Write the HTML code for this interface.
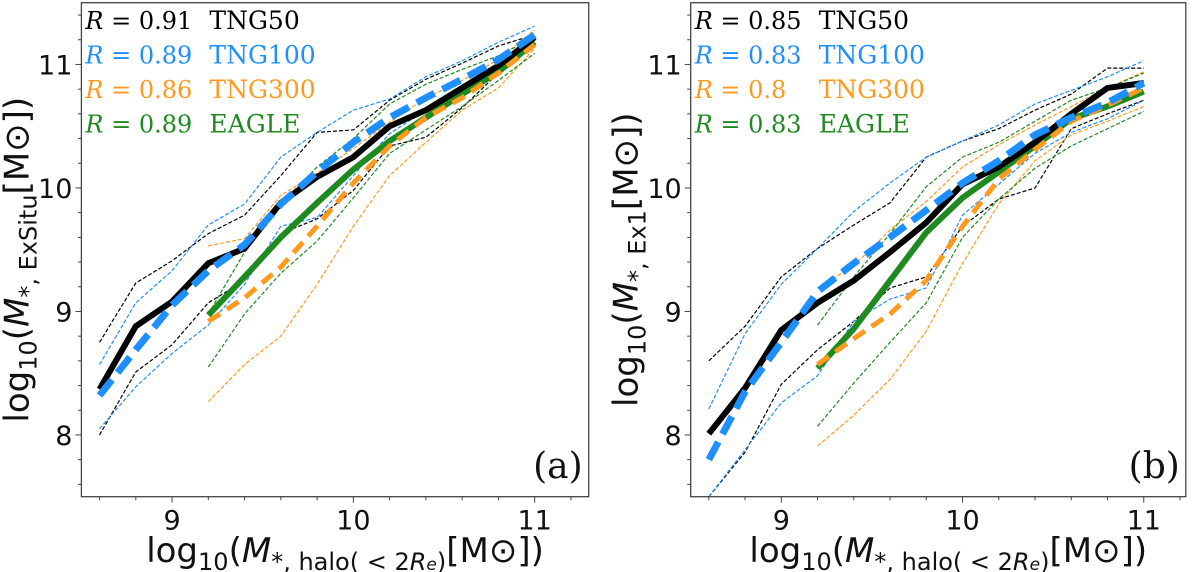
<!DOCTYPE html>
<html><head><meta charset="utf-8">
<style>
html,body{margin:0;padding:0;background:#fff;}
svg{display:block;}
text{font-family:"DejaVu Sans","Liberation Sans",sans-serif;}
.serif{font-family:"DejaVu Serif","Liberation Serif",serif;}
</style></head>
<body>
<svg id="chart" width="1200" height="572" viewBox="0 0 1200 572" xmlns="http://www.w3.org/2000/svg"></svg>
<script>
// ---- data ----
const xFull = [8.6,8.8,9.0,9.2,9.4,9.6,9.8,10.0,10.2,10.4,10.6,10.8,11.0];
const xPart = [9.2,9.4,9.6,9.8,10.0,10.2,10.4,10.6,10.8,11.0];
const xTicks = [9,10,11];
const yTicks = [8,9,10,11];
const seriesNames = ["TNG50","TNG100","TNG300","EAGLE"];
const corrA = ["0.91","0.89","0.86","0.89"];
const corrB = ["0.85","0.83","0.8","0.83"];
// panel (a)
const a50 = [8.37,8.88,9.08,9.39,9.51,9.88,10.09,10.25,10.50,10.63,10.81,10.99,11.22];
const a50hi = [8.75,9.23,9.41,9.63,9.78,10.10,10.45,10.47,10.71,10.88,11.01,11.15,11.24];
const a50lo = [8.0,8.51,8.73,9.07,9.25,9.63,9.75,9.98,10.34,10.41,10.65,10.93,11.21];
const a100 = [8.32,8.69,9.05,9.33,9.54,9.87,10.13,10.37,10.57,10.73,10.88,11.04,11.24];
const a100hi = [8.57,9.07,9.33,9.70,9.87,10.25,10.45,10.63,10.72,10.90,11.03,11.18,11.31];
const a100lo = [8.05,8.39,8.66,8.89,9.22,9.69,9.76,10.10,10.44,10.63,10.81,10.99,11.22];
const a300 = [8.92,9.11,9.36,9.69,10.04,10.34,10.57,10.73,10.93,11.16];
const a300hi = [9.53,9.59,9.94,10.12,10.32,10.53,10.73,10.87,11.04,11.28];
const a300lo = [8.27,8.57,8.80,9.22,9.69,10.10,10.37,10.63,10.81,11.13];
const aEag = [8.97,9.28,9.60,9.88,10.15,10.38,10.57,10.76,10.94,11.18];
const aEaghi = [8.98,9.48,9.87,10.17,10.40,10.68,10.84,10.96,11.07,11.22];
const aEaglo = [8.55,8.98,9.31,9.57,9.92,10.28,10.47,10.66,10.87,11.09];
// panel (b)
const b50 = [8.01,8.38,8.85,9.07,9.25,9.48,9.72,10.03,10.17,10.37,10.60,10.81,10.85];
const b50hi = [8.60,8.88,9.28,9.51,9.70,9.88,10.25,10.38,10.48,10.63,10.76,10.97,10.97];
const b50lo = [7.5,7.86,8.41,8.69,8.92,9.19,9.28,9.69,9.91,10.0,10.48,10.60,10.71];
const b100 = [7.80,8.35,8.75,9.16,9.39,9.60,9.82,10.04,10.22,10.43,10.57,10.69,10.85];
const b100hi = [8.21,8.82,9.22,9.51,9.81,10.04,10.25,10.38,10.51,10.68,10.79,10.90,11.03];
const b100lo = [7.5,7.88,8.26,8.48,8.92,9.10,9.19,9.78,10.03,10.28,10.45,10.56,10.71];
const b300 = [8.57,8.78,8.98,9.25,9.69,10.07,10.31,10.54,10.67,10.81];
const b300hi = [9.19,9.37,9.66,9.89,10.17,10.35,10.51,10.66,10.81,10.94];
const b300lo = [7.91,8.16,8.45,8.84,9.39,9.87,10.22,10.43,10.54,10.66];
const bEag = [8.54,8.86,9.25,9.64,9.92,10.13,10.34,10.56,10.66,10.78];
const bEaghi = [8.89,9.28,9.63,10.01,10.25,10.37,10.54,10.71,10.81,10.93];
const bEaglo = [8.07,8.42,8.75,9.07,9.60,9.91,10.16,10.34,10.48,10.62];

const NS="http://www.w3.org/2000/svg";
const svg=document.getElementById('chart');
const COL={k:"#000000",b:"#1e8fff",o:"#ff9a1f",g:"#1f8a1f"};
function mk(tag,attrs,parent){const e=document.createElementNS(NS,tag);for(const k in attrs)e.setAttribute(k,attrs[k]);(parent||svg).appendChild(e);return e;}

function panel(id,L,R,xmax,corr,ylabelSub,tag,S){
  const T=2.7,B=496.7,xmin=8.5,ymin=7.5,ymax=11.5;
  const sx=v=>L+(v-xmin)/(xmax-xmin)*(R-L);
  const sy=v=>B-(v-ymin)/(ymax-ymin)*(B-T);
  const g=mk('g',{});
  
  
  const clipId='clip'+id;
  const cp=mk('clipPath',{id:clipId},g);
  mk('rect',{x:L,y:T,width:R-L,height:B-T},cp);
  const plot=mk('g',{'clip-path':'url(#'+clipId+')'},g);
  function line(xs,ys,color,w,dash,name){
    const p=mk('polyline',{points:xs.map((x,i)=>sx(x)+','+sy(ys[i])).join(' '),fill:'none',stroke:color,'stroke-width':w,'stroke-linejoin':'round','stroke-dasharray':dash||'none'},plot);
    
    
  }
  line(xFull,S.k[1],COL.k,1.2,'4 2','tng50-p84');
  line(xFull,S.k[2],COL.k,1.2,'4 2','tng50-p16');
  line(xFull,S.b[1],COL.b,1.2,'4 2','tng100-p84');
  line(xFull,S.b[2],COL.b,1.2,'4 2','tng100-p16');
  line(xPart,S.o[1],COL.o,1.2,'4 2','tng300-p84');
  line(xPart,S.o[2],COL.o,1.2,'4 2','tng300-p16');
  line(xPart,S.g[1],COL.g,1.2,'4 2','eagle-p84');
  line(xPart,S.g[2],COL.g,1.2,'4 2','eagle-p16');
  line(xPart,S.g[0],COL.g,6,null,'eagle-median');
  line(xFull,S.k[0],COL.k,6,null,'tng50-median');
  line(xPart,S.o[0],COL.o,5,'14 8','tng300-median');
  line(xFull,S.b[0],COL.b,7,'20 9','tng100-median');
  const fr=mk('rect',{x:L,y:T,width:R-L,height:B-T,fill:'none',stroke:'#444','stroke-width':1.3},g);
  
  
  for(let v=8.6;v<=xmax+1e-6;v+=0.2){
    const major=xTicks.some(t=>Math.abs(t-v)<1e-6);
    mk('line',{x1:sx(v),x2:sx(v),y1:B,y2:B+(major?6:3.5),stroke:'#444','stroke-width':1},g);
  }
  xTicks.forEach(t=>{
    const tx=mk('text',{x:sx(t),y:B+33,'text-anchor':'middle','font-size':27,fill:'#111'},g);
    tx.textContent=t;
    
    
  });
  for(let v=7.6;v<=11.41;v+=0.2){
    const major=yTicks.some(t=>Math.abs(t-v)<1e-6);
    mk('line',{x1:L,x2:L-(major?6:3.5),y1:sy(v),y2:sy(v),stroke:'#444','stroke-width':1},g);
  }
  yTicks.forEach(t=>{
    const tx=mk('text',{x:L-9,y:sy(t)+10,'text-anchor':'end','font-size':27,fill:'#111'},g);
    tx.textContent=t;
    
    
  });
  const cols=[COL.k,COL.b,COL.o,COL.g];
  seriesNames.forEach((n,i)=>{
    const y=29+i*34.5;
    const t=mk('text',{x:L+4,y:y,'font-size':24,fill:cols[i],class:'serif'},g);
    t.innerHTML='<tspan font-style="italic">R</tspan> = '+corr[i];
    
    
    const t2=mk('text',{x:L+128,y:y,'font-size':25,fill:cols[i],class:'serif'},g);
    t2.textContent=n;
    
    
  });
  const pl=mk('text',{x:R-6,y:478,'text-anchor':'end','font-size':36,fill:'#111',class:'serif'},g);
  pl.textContent=tag;
  
  
  const xl=mk('text',{x:(L+R)/2+10,y:562,'text-anchor':'middle','font-size':34,fill:'#111'},g);
  xl.innerHTML='log<tspan font-size="24" dy="8">10</tspan><tspan dy="-8">(</tspan><tspan font-style="italic">M</tspan><tspan font-size="24" dy="8">*, halo( &lt; 2<tspan font-style="italic">R</tspan><tspan font-size="17" font-style="italic">e</tspan>)</tspan><tspan dy="-8">[M</tspan><tspan>⊙</tspan>])';
  
  
  const yc=(T+B)/2+10;
  const yl=mk('text',{x:0,y:0,'text-anchor':'middle','font-size':34,fill:'#111',transform:'translate('+(L-53)+','+yc+') rotate(-90)'},g);
  yl.innerHTML='log<tspan font-size="24" dy="8">10</tspan><tspan dy="-8">(</tspan><tspan font-style="italic">M</tspan><tspan font-size="24" dy="8">*, '+ylabelSub+'</tspan><tspan dy="-8">[M</tspan><tspan>⊙</tspan>])';
  
  
}
panel('a',81.4,588.7,11.298,corrA,'ExSitu','(a)',{k:[a50,a50hi,a50lo],b:[a100,a100hi,a100lo],o:[a300,a300hi,a300lo],g:[aEag,aEaghi,aEaglo]});
panel('b',690.7,1185.8,11.232,corrB,'Ex1','(b)',{k:[b50,b50hi,b50lo],b:[b100,b100hi,b100lo],o:[b300,b300hi,b300lo],g:[bEag,bEaghi,bEaglo]});
</script>
</body></html>
